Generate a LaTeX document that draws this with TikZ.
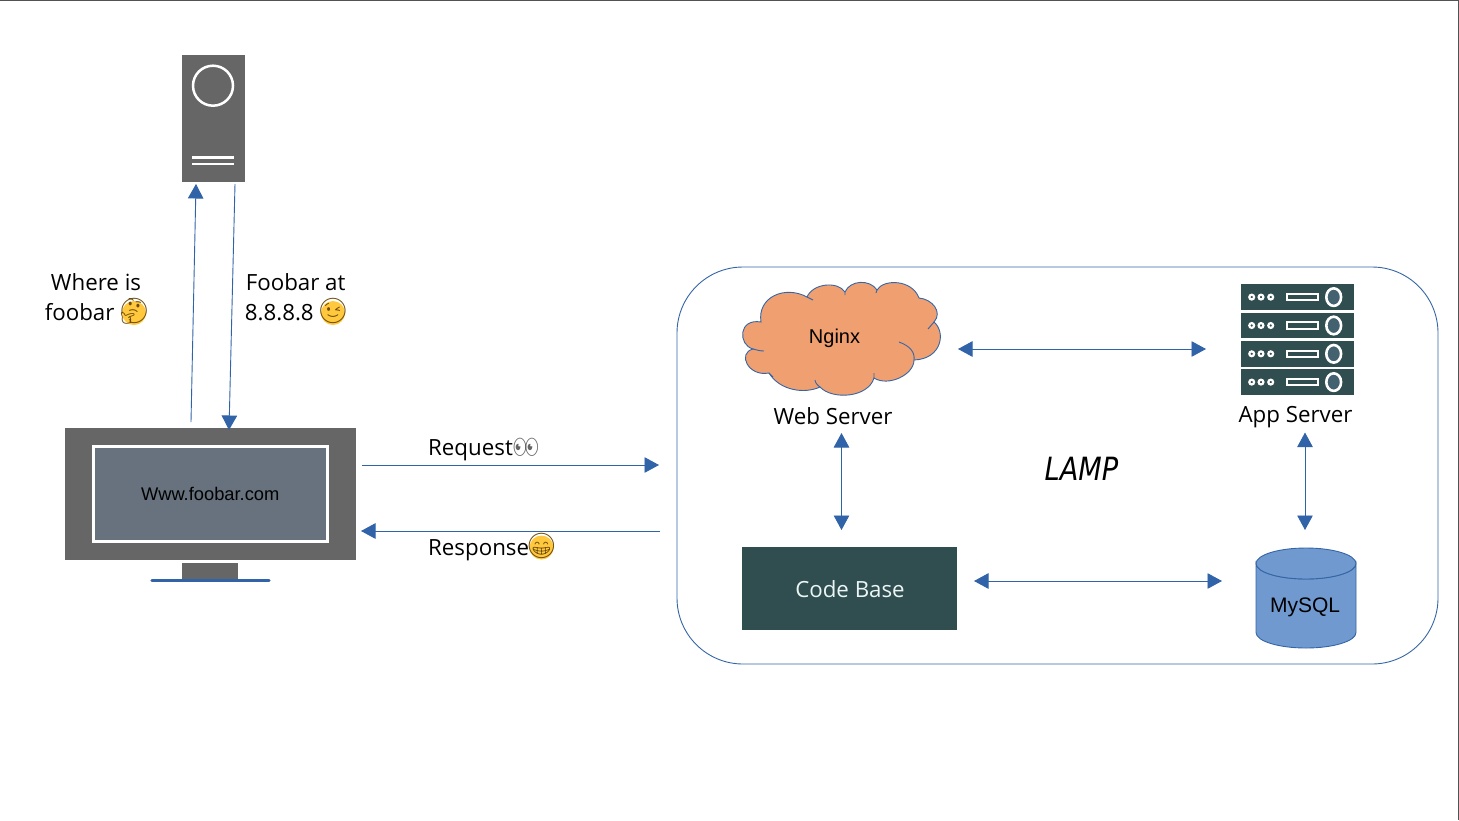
\documentclass[tikz,border=0pt]{standalone}
\usepackage{fontspec}
\setmainfont{Open Sans}
\newfontfamily\arialfont{Liberation Sans}
\newfontfamily\emojifont{Noto Emoji}
\newfontfamily\lampfont[FakeStretch=0.85]{DejaVu Sans}
\usetikzlibrary{arrows.meta}
\definecolor{linkblue}{HTML}{3063A8}
\definecolor{boxblue}{HTML}{3466A6}
\definecolor{darkgrey}{HTML}{666666}
\definecolor{screengrey}{HTML}{67727E}
\definecolor{deepteal}{HTML}{304D4F}
\definecolor{slotblue}{HTML}{43616F}
\definecolor{cloudorange}{HTML}{F09F70}
\definecolor{dbblue}{HTML}{7099CF}
\definecolor{faceyellow}{HTML}{FFC83D}
\definecolor{facedark}{HTML}{6B4A0C}
\newcommand{\emojiglyph}[1]{\makebox[0pt]{\smash{\raisebox{-6.5pt}{#1}}}}
\tikzset{
  link/.style={linkblue, line width=0.9pt, -{Triangle[length=14.5pt,width=15.5pt]}},
  twoway/.style={linkblue, line width=0.9pt, {Triangle[length=14.5pt,width=15.5pt]}-{Triangle[length=14.5pt,width=15.5pt]}},
  label text/.style={font=\fontsize{22.3}{30}\selectfont, align=center, inner sep=0pt},
  ariel text/.style={font=\arialfont\fontsize{20}{24}\selectfont, text=black, inner sep=0pt},
  bounds/.style={rectangle, inner sep=0pt, outer sep=0pt},
  emoji/.style={circle, fill=faceyellow, inner sep=0pt, minimum size=24pt,
    font=\emojifont\fontsize{25}{25}\selectfont, text=facedark},
  whitestroke/.style={white, line width=2.5pt},
}
\begin{document}
\begin{tikzpicture}[x=1pt, y=-1pt, >=Stealth]
  \useasboundingbox (0,0) rectangle (1459,820);
  % page edge
  \draw[darkgrey!80!black, line width=1.2pt] (0,0.5) -- (1458.5,0.5) -- (1458.5,820);

  % name server
  \node[bounds, fill=darkgrey, minimum width=63pt, minimum height=127pt] (dnsserver) at (213.5,118.5) {};
  \draw[whitestroke] (213,85.7) circle (20);
  \draw[whitestroke] (192.3,157.3) -- (234,157.3);
  \draw[whitestroke] (192.3,164) -- (234,164);

  % monitor
  \node[bounds, fill=darkgrey, minimum width=291pt, minimum height=132pt] (monitor) at (210.5,494) {};
  \node[bounds, fill=screengrey, draw=white, line width=3pt, minimum width=234pt, minimum height=95pt,
        ariel text, font=\arialfont\fontsize{18.3}{22}\selectfont] (screen) at (210.2,494.2) {Www.foobar.com};
  \fill[darkgrey] (182.3,563.3) rectangle (238.3,580);
  \draw[linkblue, line width=3.2pt, line cap=round] (152,580.7) -- (269,580.7);

  % LAMP box
  \node[bounds, draw=boxblue, line width=0.9pt, rounded corners=66pt, minimum width=761pt, minimum height=397pt] (lampbox) at (1057.5,465.5) {};
  \node[font=\lampfont\itshape\fontsize{32}{36}\selectfont, inner sep=0pt] (lamptitle) at (1081.5,469) {LAMP};

  % Nginx cloud
  \node[bounds, minimum width=200pt, minimum height=113pt] (nginx) at (842,338.5) {};
  \draw[boxblue, fill=cloudorange, line width=0.9pt]
    (761,322) .. controls (757,297) and (785,285) .. (807,297)
    .. controls (813,283) and (838,281) .. (845,292)
    .. controls (850,280) and (870,279) .. (877,290)
    .. controls (883,279) and (912,279) .. (919,298)
    .. controls (932,299) and (943,312) .. (934,322)
    .. controls (946,332) and (942,359) .. (914,360)
    .. controls (914,375) and (888,387) .. (874,378)
    .. controls (868,398) and (832,400) .. (820,387)
    .. controls (805,394) and (780,391) .. (769,373)
    .. controls (748,377) and (737,353) .. (753,349)
    .. controls (738,345) and (738,318) .. (761,322) -- cycle;
  \draw[boxblue, line width=0.9pt]
    (807,297) -- (813,300)
    (845,292) -- (845,295)
    (877,290) -- (876,293)
    (934,322) -- (928,329)
    (899,342) .. controls (910,346) and (915,352) .. (914,360)
    (874,378) -- (874,373)
    (820,387) .. controls (817,385) and (815,382) .. (815,380)
    (769,373) -- (773,377)
    (753,349) .. controls (757,350) and (760,351) .. (764,351);
  \node[ariel text] (nginxtext) at (834.5,338) {Nginx};
  \node[label text] (weblabel) at (833,416) {Web Server};

  % App server stack
  \node[bounds, minimum width=113pt, minimum height=111pt] (appserver) at (1297.5,340) {};
  \foreach \y in {284.3,312.7,341,369.3} {
    \fill[deepteal] (1241,\y) rectangle (1354,\y+25.6);
    \foreach \x in {1251.7,1261,1270.7}
      \draw[white, fill=deepteal, line width=2.2pt] (\x,\y+12.8) circle (2.4);
    \draw[white, line width=2pt] (1287,\y+9.5) rectangle (1318,\y+16);
    \draw[white, fill=slotblue, line width=2.6pt] (1333.7,\y+12.8) ellipse (7.4 and 8.8);
  }
  \node[label text] (applabel) at (1295.5,417) {App Server};

  % Code base
  \node[bounds, fill=deepteal, minimum width=215pt, minimum height=83pt] (codebase) at (849.5,588.5) {};
  \node[label text, text=white!92!teal] (codetext) at (850,589) {Code Base};

  % MySQL
  \node[bounds, minimum width=100pt, minimum height=100pt] (mysql) at (1306,598) {};
  \draw[boxblue, fill=dbblue, line width=0.9pt] (1256,563.5) -- (1256,632.5)
    arc[start angle=180, end angle=0, x radius=50, y radius=15.5] -- (1356,563.5)
    arc[start angle=0, end angle=180, x radius=50, y radius=15.5] -- cycle;
  \draw[boxblue, fill=dbblue, line width=0.9pt] (1306,563.5) ellipse (50 and 15.5);
  \node[ariel text, font=\arialfont\fontsize{21}{24}\selectfont] (mysqltext) at (1305,607) {MySQL};

  % labels on the left
  \node[label text] (wherelabel) at (96,297.5) {Where is\\foobar \makebox[27pt]{}};
  \node[emoji] (thinkface) at (134,313) {\emojiglyph{^^^^^^01f914}};
  \node[label text] (foobarlabel) at (295.7,297.5) {Foobar at\\8.8.8.8 \makebox[27pt]{}};
  \node[emoji] (winkface) at (333,313) {\emojiglyph{^^^^^^01f609}};
  \node[label text, anchor=west] (requestlabel) at (428,450) {Request};
  \node[font=\emojifont\fontsize{21}{21}\selectfont, text=darkgrey, inner sep=0pt] (eyes) at (526,447) {^^^^^^01f440};
  \node[label text, anchor=west] (responselabel) at (428,550) {Response};
  \node[emoji] (grinface) at (541.5,547.5) {\emojiglyph{^^^^^^01f601}};

  % connectors
  \draw[link] ([shift={(-19.5,-6)}]monitor.north) -- ([shift={(-17.5,2)}]dnsserver.south);
  \draw[link] ([shift={(21.5,2)}]dnsserver.south) -- ([shift={(18.5,2)}]monitor.north);
  \draw[link] ([shift={(6,-29)}]monitor.east) -- ([shift={(-18,-0.5)}]lampbox.west);
  \draw[link] ([shift={(-17,65.5)}]lampbox.west) -- ([shift={(5,37)}]monitor.east);
  \draw[twoway] ([shift={(16,10.5)}]nginx.east) -- ([shift={(-35,9)}]appserver.west);
  \draw[twoway] ([shift={(-0.5,38)}]nginx.south) -- ([shift={(-8,-17)}]codebase.north);
  \draw[twoway] ([shift={(17,-7.5)}]codebase.east) -- ([shift={(-34,-17)}]mysql.west);
  \draw[twoway] ([shift={(7.5,37)}]appserver.south) -- ([shift={(-1,-18)}]mysql.north);
\end{tikzpicture}
\end{document}
